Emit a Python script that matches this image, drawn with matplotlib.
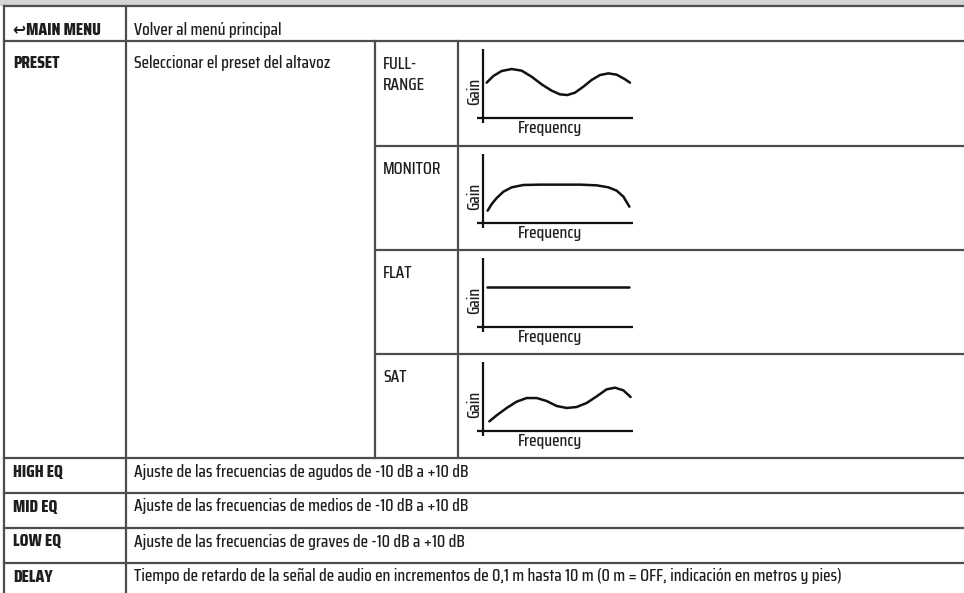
import matplotlib.pyplot as plt

plt.rcParams['font.family'] = ['Saira Condensed', 'DejaVu Sans']
plt.rcParams['font.stretch'] = 'condensed'

# table content
row_labels = ['\u21a9MAIN MENU', 'PRESET', 'HIGH EQ', 'MID EQ', 'LOW EQ', 'DELAY']
row_texts = ['Volver al menú principal',
             'Seleccionar el preset del altavoz',
             'Ajuste de las frecuencias de agudos de -10 dB a +10 dB',
             'Ajuste de las frecuencias de medios de -10 dB a +10 dB',
             'Ajuste de las frecuencias de graves de -10 dB a +10 dB',
             'Tiempo de retardo de la señal de audio en incrementos de 0,1 m hasta 10 m '
             '(0 m = OFF, indicación en metros y pies)']
preset_names = ['FULL-\nRANGE', 'MONITOR', 'FLAT', 'SAT']

# preset response curves (frequency 0-100, gain 0-100)
fullrange_freq = [2.4, 6.9, 12.4, 19.1, 25.8, 32.4, 39.1, 45.8, 51.3, 56.2, 61.3, 66.9,
                  72.4, 78, 83.6, 89.1, 94.7, 98]
fullrange_gain = [51.2, 60.9, 68.1, 71, 68.6, 59.9, 48.8, 39.6, 34.3, 33.3, 36.7, 45.4,
                  55.1, 62.3, 64.7, 62.8, 56.1, 51.2]
monitor_freq = [3.1, 5.8, 9.1, 13.6, 19.1, 26.9, 38, 51.3, 64.7, 75.8, 83.6, 89.1, 93.6, 97.6]
monitor_gain = [17.9, 27.5, 36.2, 45.4, 51.7, 55.1, 55.6, 55.6, 55.6, 54.6, 51.7, 46.9, 38.2, 23.7]
flat_freq = [2.5, 97.5]
flat_gain = [58, 58]
sat_freq = [4.2, 9.1, 15.8, 22.4, 29.1, 35.8, 42.4, 49.1, 55.8, 62.4, 69.1, 75.8, 82.4,
            88, 93.6, 98.4]
sat_gain = [14, 22.7, 33.4, 42.5, 47.8, 47.8, 43.5, 36.3, 33.4, 34.8, 40.6, 50.2, 60.4,
            62.8, 58.9, 49.3]
curves = [(fullrange_freq, fullrange_gain), (monitor_freq, monitor_gain),
          (flat_freq, flat_gain), (sat_freq, sat_gain)]

line_col = '#4d4d4d'
text_col = '#1e1e1e'

fig = plt.figure(figsize=(9.64, 5.93), dpi=100)
ax = fig.add_axes([0, 0, 1, 1])
ax.set_xlim(0, 964)
ax.set_ylim(593, 0)
ax.axis('off')

# grey header strip cut off at the top
ax.fill_between([0, 964], 0, 6, color='#d4d4d4', lw=0)

# grid lines
row_tops = [6, 41, 458, 493, 528, 563]
for y in row_tops:
    ax.plot([4, 964], [y, y], color=line_col, lw=1.6)
sub_tops = [41, 146, 250, 354]
for y in sub_tops[1:]:
    ax.plot([375, 964], [y, y], color=line_col, lw=1.6)
ax.plot([4, 4], [6, 593], color=line_col, lw=1.6)
ax.plot([126, 126], [6, 593], color=line_col, lw=1.6)
ax.plot([375, 375], [41, 458], color=line_col, lw=1.6)
ax.plot([458, 458], [41, 458], color=line_col, lw=1.6)

# row text (baselines)
text_y = [35, 68, 477, 511.5, 546.5, 581.5]
for lab, txt, y in zip(row_labels, row_texts, text_y):
    ax.text(13, y, lab, fontsize=12.5, fontweight='heavy', color=text_col, va='baseline')
    ax.text(134, y, txt, fontsize=12.5, fontweight='medium', color=text_col, va='baseline')

# presets with little response graphs
for i, (name, (fx, gy)) in enumerate(zip(preset_names, curves)):
    top = sub_tops[i]
    for k, ln in enumerate(name.split('\n')):
        ax.text(383, top + 28 + 21 * k, ln, fontsize=12.5, fontweight='medium',
                color=text_col, va='baseline')
    inset = fig.add_axes([477 / 964, 1 - (top + 82) / 593, 156 / 964, 74 / 593])
    inset.set_xlim(-4, 100)
    inset.set_ylim(-7.2, 100)
    inset.axis('off')
    inset.axhline(0, color='#111111', lw=1.6)
    inset.axvline(0, color='#111111', lw=1.6)
    inset.plot(fx, gy, color='#111111', lw=1.8, solid_capstyle='round')
    ax.text(474, top + 50, 'Gain', fontsize=12.5, fontweight='medium', color=text_col,
            rotation=90, ha='center', va='center')
    ax.text(550, top + 92, 'Frequency', fontsize=12.5, fontweight='medium', color=text_col,
            ha='center', va='baseline')

fig.savefig('out.png', dpi=100)
